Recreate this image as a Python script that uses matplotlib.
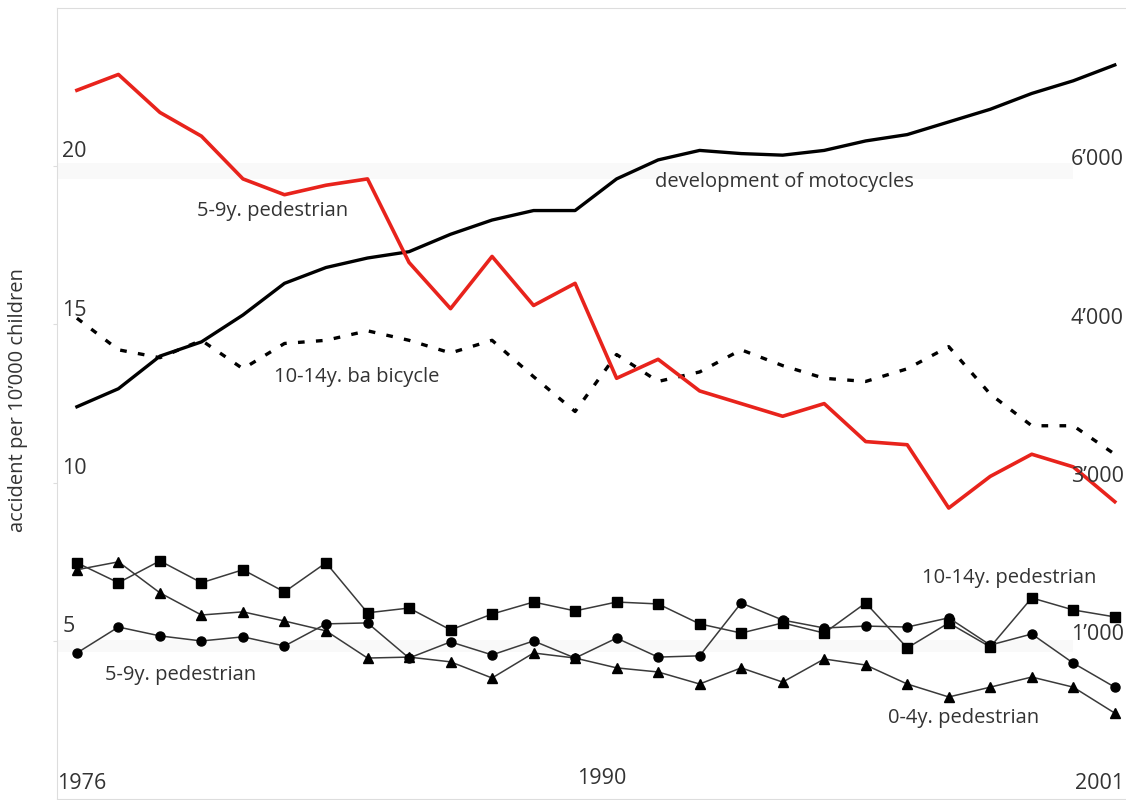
import numpy as np
import matplotlib.pyplot as plt

plt.rcParams['font.family'] = ['Open Sans', 'DejaVu Sans']

years = np.arange(1976, 2002)

# accident rates per 10'000 children
ped_5_9_red = [22.4, 22.9, 21.7, 20.95, 19.6, 19.1, 19.4, 19.6, 16.96, 15.5, 17.15, 15.6, 16.3,
               13.3, 13.9, 12.9, 12.5, 12.1, 12.5, 11.3, 11.2, 9.2, 10.2, 10.9, 10.5, 9.4]
motorcycles = [12.4, 12.97, 14.0, 14.45, 15.3, 16.3, 16.8, 17.1, 17.3, 17.85, 18.3, 18.6, 18.6,
               19.6, 20.2, 20.5, 20.4, 20.35, 20.5, 20.8, 21.0, 21.4, 21.8, 22.3, 22.7, 23.2]
bicycle_10_14 = [15.2, 14.2, 13.95, 14.5, 13.6, 14.4, 14.5, 14.8, 14.5, 14.1, 14.5, 13.35, 12.25,
                 14.05, 13.2, 13.5, 14.2, 13.7, 13.3, 13.2, 13.6, 14.3, 12.8, 11.8, 11.8, 10.9]
ped_10_14 = [7.47, 6.84, 7.53, 6.84, 7.25, 6.55, 7.47, 5.89, 6.04, 5.35, 5.85, 6.23, 5.95,
             6.23, 6.17, 5.54, 5.25, 5.57, 5.25, 6.2, 4.78, 5.57, 4.81, 6.36, 5.98, 5.76]
ped_0_4 = [7.25, 7.5, 6.52, 5.82, 5.92, 5.63, 5.32, 4.46, 4.49, 4.34, 3.83, 4.62, 4.46,
           4.15, 4.02, 3.64, 4.15, 3.7, 4.43, 4.24, 3.64, 3.23, 3.54, 3.86, 3.54, 2.72]
ped_5_9 = [4.62, 5.44, 5.16, 5.0, 5.13, 4.84, 5.54, 5.57, 4.46, 4.97, 4.56, 5.0, 4.46,
           5.09, 4.49, 4.53, 6.2, 5.66, 5.41, 5.47, 5.44, 5.73, 4.87, 5.22, 4.3, 3.54]

left_ticks = [20, 15, 10, 5]
right_labels = ['6’000', '4’000', '3’000', '1’000']

fig = plt.figure(figsize=(11.26, 8), dpi=100)
ax = fig.add_axes([0.0506, 0.001, 0.9494, 0.989])

# faint bands behind the chart
ax.axhspan(19.6, 20.1, xmin=0, xmax=0.95, color='#f9f9f9', zorder=0, lw=0)
ax.axhspan(4.65, 5.03, xmin=0, xmax=0.95, color='#f9f9f9', zorder=0, lw=0)

ax.plot(years, ped_10_14, color='#3a3a3a', lw=1.1, marker='s', ms=6.5, mfc='black', mec='black')
ax.plot(years, ped_0_4, color='#3a3a3a', lw=1.1, marker='^', ms=6.5, mfc='black', mec='black')
ax.plot(years, ped_5_9, color='#3a3a3a', lw=1.1, marker='o', ms=6.5, mfc='black', mec='black')
ax.plot(years, bicycle_10_14, color='black', lw=2.4, linestyle=(0, (2.0, 3.4)))
ax.plot(years, motorcycles, color='black', lw=2.4, solid_joinstyle='round')
ax.plot(years, ped_5_9_red, color='#e8231c', lw=2.6)

ax.set_xlim(1975.52, 2001.27)
ax.set_ylim(0, 25)

for s in ['left', 'top', 'bottom']:
    ax.spines[s].set_color('#dddddd')
ax.spines['right'].set_visible(False)

ax.set_xticks([])
ax.set_yticks(left_ticks)
ax.set_yticklabels([])
ax.tick_params(axis='y', length=3, color='#dddddd')

tc = '#333333'
for v in left_ticks:
    ax.text(1975.65, v + 0.45, str(v), fontsize=15.5, color=tc, ha='left', va='center')
for v, lab in zip(left_ticks, right_labels):
    ax.text(2001.22, v + 0.2, lab, fontsize=15.5, color=tc, ha='right', va='center')

ax.text(1975.52, 0.5, '1976', fontsize=15.5, color=tc, ha='left', va='center')
ax.text(1988.65, 0.65, '1990', fontsize=15.5, color=tc, ha='center', va='center')
ax.text(2001.22, 0.5, '2001', fontsize=15.5, color=tc, ha='right', va='center')

ax.text(1978.89, 18.6, '5-9y. pedestrian', fontsize=14.5, color=tc, va='center')
ax.text(1989.93, 19.5, 'development of motocycles', fontsize=14.5, color=tc, va='center')
ax.text(1980.75, 13.35, '10-14y. ba bicycle', fontsize=14.5, color=tc, va='center')
ax.text(1976.68, 3.92, '5-9y. pedestrian', fontsize=14.5, color=tc, va='center')
ax.text(1996.36, 7.0, '10-14y. pedestrian', fontsize=14.5, color=tc, va='center')
ax.text(1995.54, 2.56, '0-4y. pedestrian', fontsize=14.5, color=tc, va='center')

fig.text(0.016, 0.5, 'accident per 10’000 children', rotation=90, fontsize=14.5,
         color=tc, ha='center', va='center')

fig.savefig('out.png', dpi=100)
